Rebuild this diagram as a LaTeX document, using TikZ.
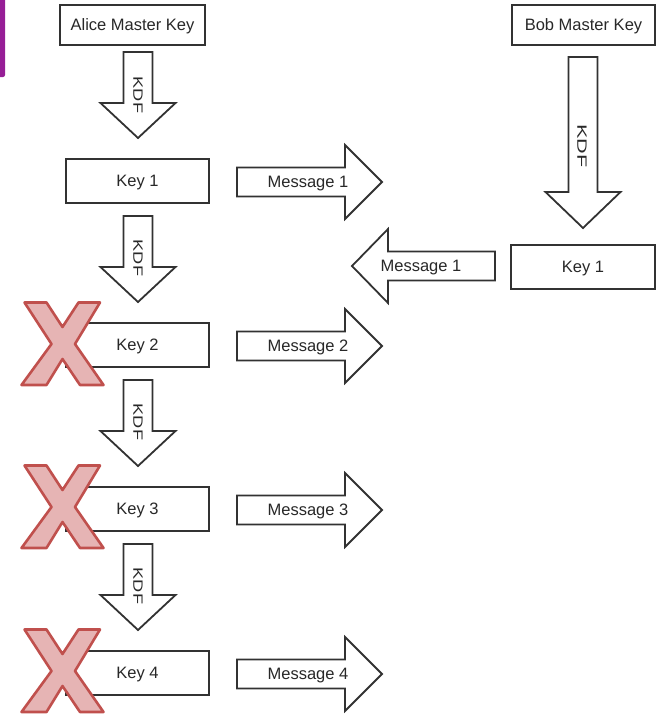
\documentclass[tikz,border=0pt]{standalone}
\usepackage{fontspec}
\setmainfont{Liberation Sans}
\definecolor{boxgray}{RGB}{50,50,50}
\definecolor{txtgray}{RGB}{40,40,40}
\definecolor{xfill}{RGB}{230,180,180}
\definecolor{xline}{RGB}{192,80,77}
\definecolor{barpurple}{RGB}{150,30,150}
\newcommand\downarr[4]{% cx, top, headbase, tip
  \draw[arr] ({#1-14.5},#2) -- ({#1+14.5},#2) -- ({#1+14.5},#3) -- ({#1+37.5},#3) -- (#1,#4) -- ({#1-37.5},#3) -- ({#1-14.5},#3) -- cycle;}
\newcommand\rightarr[1]{% cy
  \draw[arr] (237,{#1-14.5}) -- (345,{#1-14.5}) -- (345,{#1-37}) -- (382,#1) -- (345,{#1+37}) -- (345,{#1+14.5}) -- (237,{#1+14.5}) -- cycle;}
\newcommand\leftarr[1]{% cy
  \draw[arr] (495,{#1-14.5}) -- (388,{#1-14.5}) -- (388,{#1-37}) -- (352,#1) -- (388,{#1+37}) -- (388,{#1+14.5}) -- (495,{#1+14.5}) -- cycle;}
\newcommand\crossmark[2]{% cx, cy
  \draw[xm, shift={(#1,#2)}] (-38,-41.5) -- (-16,-41.5) -- (0,-17) -- (16,-41.5) -- (37.5,-41.5) -- (12.5,0) -- (41,41) -- (17.5,41) -- (0,15) -- (-16,41) -- (-41,41) -- (-11,0) -- cycle;}
\begin{document}
\begin{tikzpicture}[x=1pt,y=-1pt,
  box/.style={draw=boxgray, line width=1.8pt, fill=white, inner sep=0pt,
    minimum width=143pt, minimum height=44pt, text=txtgray,
    text height=11.8pt, text depth=0pt, font=\fontsize{16.5}{19}\selectfont},
  mkbox/.style={box, minimum height=40pt},
  arr/.style={draw=boxgray, line width=1.8pt, fill=white, line join=miter},
  lbl/.style={inner sep=0pt, text=txtgray, text height=11.8pt, text depth=0pt,
    font=\fontsize{16.5}{19}\selectfont},
  kdf/.style={inner sep=0pt, rotate=-90, text=txtgray, text height=9.5pt, text depth=0pt,
    font=\fontsize{13.5}{16}\selectfont},
  xm/.style={draw=xline, fill=xfill, line width=2.6pt, line join=round}]
\useasboundingbox (0,0) rectangle (658,715);
\fill[barpurple, rounded corners=2pt] (-3,-3) rectangle (5,77);
% master keys
\node[mkbox, minimum width=145pt] (amk) at (132.5,25) {Alice Master Key};
\node[mkbox, minimum width=143pt] (bmk) at (583.5,25) {Bob Master Key};
% Alice keys
\node[box] (k1) at (137.5,181) {Key 1};
\node[box] (k2) at (137.5,345) {Key 2};
\node[box] (k3) at (137.5,509) {Key 3};
\node[box] (k4) at (137.5,673) {Key 4};
% Bob key
\node[box, minimum width=144pt] (bk1) at (583,267) {Key 1};
% KDF arrows
\downarr{138}{52}{103}{138}
\node[kdf] (kdf1) at (138,95) {\scalebox{1.35}[1]{KDF}};
\downarr{138}{216}{267}{302}
\node[kdf] (kdf2) at (138,258) {\scalebox{1.35}[1]{KDF}};
\downarr{138}{380}{431}{466}
\node[kdf] (kdf3) at (138,422) {\scalebox{1.35}[1]{KDF}};
\downarr{138}{544}{595}{630}
\node[kdf] (kdf4) at (138,586) {\scalebox{1.35}[1]{KDF}};
\downarr{583}{57}{192}{228}
\node[kdf] (kdfb) at (582,146) {\scalebox{1.6}[1]{KDF}};
% message arrows
\rightarr{182}
\node[lbl] (m1) at (308,182) {Message 1};
\rightarr{346}
\node[lbl] (m2) at (308,346) {Message 2};
\rightarr{510}
\node[lbl] (m3) at (308,510) {Message 3};
\rightarr{674}
\node[lbl] (m4) at (308,674) {Message 4};
\leftarr{266}
\node[lbl] (bm1) at (421,266) {Message 1};
% crosses
\crossmark{62.5}{344}
\crossmark{62.5}{507}
\crossmark{62.5}{671}
\end{tikzpicture}
\end{document}
